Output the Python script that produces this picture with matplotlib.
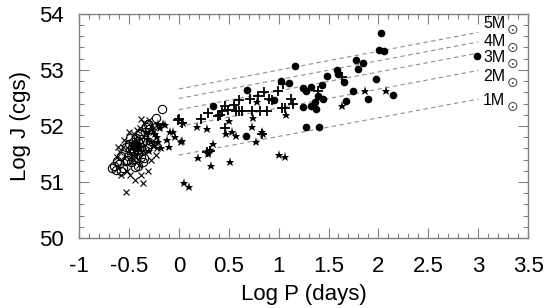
#!/usr/bin/env python3
"""
Angular momentum vs orbital period scatter, with constant-mass Kepler lines.
"""

import matplotlib
matplotlib.use("Agg")
import matplotlib.pyplot as plt
from matplotlib.ticker import MultipleLocator

OUT = "out.png"

# ---------------------------------------------------------------------------
# Data
# ---------------------------------------------------------------------------

# open circles
circ_logp = [-0.17, -0.23, -0.31, -0.49, -0.65, -0.63, -0.58, -0.54, -0.51, -0.48,
             -0.44, -0.41, -0.46, -0.43, -0.39, -0.34, -0.28, -0.38, -0.36, -0.53,
             -0.58, -0.46, -0.44, -0.42, -0.40, -0.47, -0.43, -0.38, -0.50, -0.41,
             -0.36, -0.45, -0.48, -0.39, -0.33, -0.30, -0.52, -0.60, -0.56, -0.62,
             -0.35, -0.32, -0.29, -0.67, -0.44, -0.45, -0.41, -0.37, -0.49, -0.43]
circ_logj = [52.30, 52.15, 52.03, 51.78, 51.28, 51.22, 51.19, 51.37, 51.46, 51.35,
             51.26, 51.28, 51.53, 51.63, 51.76, 51.89, 51.81, 51.44, 51.35, 51.63,
             51.46, 51.72, 51.66, 51.58, 51.70, 51.60, 51.78, 51.62, 51.68, 51.50,
             51.72, 51.55, 51.52, 51.85, 51.98, 51.95, 51.40, 51.32, 51.25, 51.38,
             51.42, 51.60, 51.68, 51.25, 51.45, 51.65, 51.74, 51.55, 51.58, 51.68]

# crosses
cross_logp = [-0.38, -0.39, -0.56, -0.59, -0.23, -0.38, -0.44, -0.36, -0.53, -0.49,
              -0.31, -0.24, -0.21, -0.45, -0.50, -0.42, -0.35, -0.30, -0.33, -0.55,
              -0.62, -0.47, -0.40, -0.28, -0.52, -0.58, -0.36, -0.44, -0.48, -0.40,
              -0.26, -0.22, -0.61, -0.27, -0.42, -0.46]
cross_logj = [52.12, 51.97, 51.62, 51.53, 51.49, 51.13, 51.04, 50.99, 50.83, 51.13,
              51.19, 51.71, 51.99, 51.85, 51.90, 51.92, 52.05, 52.10, 51.85, 51.75,
              51.45, 51.35, 51.30, 51.40, 51.20, 51.12, 51.55, 51.45, 51.70, 51.60,
              51.90, 51.60, 51.63, 52.02, 51.66, 51.62]

# stars
star_logp = [-0.21, -0.19, -0.16, -0.14, -0.09, -0.06, -0.10, -0.22, -0.21, -0.31,
             -0.28, -0.04, 0.02, 0.04, 0.05, 0.10, 0.03, 0.18, 0.28, 0.19,
             0.32, 0.34, 0.50, 0.47, 0.53, 0.57, 0.73, 0.83, 0.84, 0.77,
             0.51, 1.00, 1.06, 0.78, 0.74, 1.07, 1.64, 1.87, 2.08, -0.33,
             -0.27, -0.25, -0.18, -0.12, -0.30, -0.24, 0.31, 0.29]
star_logj = [52.03, 51.97, 52.03, 52.01, 51.90, 51.89, 51.62, 51.81, 51.71, 51.76,
             51.72, 51.80, 51.72, 52.06, 50.99, 50.92, 51.74, 51.99, 51.94, 51.42,
             51.28, 51.67, 52.08, 51.85, 51.89, 51.83, 51.99, 51.89, 51.85, 51.71,
             51.35, 51.49, 51.44, 52.42, 52.15, 52.19, 52.35, 52.62, 52.62, 51.90,
             51.95, 51.65, 51.60, 51.75, 51.55, 51.85, 51.58, 51.50]

# plus signs
plus_logp = [1.04, 0.85, 0.79, 0.71, 0.60, 0.90, 0.93, 0.46, 0.55, 0.43,
             0.49, 0.57, 0.60, 0.63, 0.73, 0.81, 0.88, 1.03, 0.41, 0.29,
             0.22, 0.00, 0.39, 0.46, 0.28, 0.31, 0.83, 0.99, 1.12, 1.14,
             1.06, 1.39, 1.64, -0.01, 0.03]
plus_logj = [52.75, 52.60, 52.53, 52.49, 52.46, 52.48, 52.46, 52.35, 52.37, 52.26,
             52.28, 52.26, 52.26, 52.26, 52.26, 52.26, 52.26, 52.32, 52.19, 52.24,
             52.12, 52.12, 52.17, 51.96, 51.53, 51.55, 51.85, 52.62, 52.49, 52.40,
             52.32, 52.62, 52.87, 52.10, 52.06]

# filled circles
dot_logp = [0.34, 0.68, 0.67, 0.95, 1.02, 1.10, 1.16, 1.24, 1.27, 1.32,
            1.39, 1.44, 1.36, 1.43, 1.24, 1.32, 1.37, 1.27, 1.40, 1.48,
            1.59, 1.60, 1.66, 1.68, 1.75, 1.78, 1.85, 1.80, 1.90, 1.98,
            2.01, 2.06, 2.03, 2.15, 2.99]
dot_logj = [52.35, 52.64, 51.83, 52.46, 52.80, 52.76, 53.07, 52.67, 52.62, 52.69,
            52.53, 52.48, 52.42, 52.73, 52.33, 52.35, 52.30, 51.99, 51.99, 52.89,
            53.00, 52.92, 52.78, 52.44, 52.62, 53.18, 53.12, 53.01, 52.48, 52.84,
            53.35, 53.34, 53.66, 52.55, 53.25]

# constant-mass lines (log P from 0 to 3)
masses     = [1, 2, 3, 4, 5]
line_logp  = [0.0, 3.0]
line_start = [51.48, 51.99, 52.29, 52.49, 52.66]
line_end   = [52.48, 52.99, 53.30, 53.50, 53.67]
label_logj = [52.37, 52.80, 53.14, 53.43, 53.75]


def main():
    plt.rcParams["font.family"] = ["Liberation Sans", "DejaVu Sans"]

    fig = plt.figure(figsize=(5.45, 3.08), dpi=100)
    ax = fig.add_axes([0.145, 0.227, 0.824, 0.728])

    for y0, y1 in zip(line_start, line_end):
        ax.plot(line_logp, [y0, y1], ls=(0, (4, 3)), lw=0.8, color="#909090", zorder=1)

    ax.plot(circ_logp, circ_logj, ls="none", marker="o", ms=6, mfc="none",
            mec="black", mew=0.8, zorder=2)
    ax.plot(cross_logp, cross_logj, ls="none", marker="x", ms=5, color="black",
            mew=0.8, zorder=3)
    ax.plot(star_logp, star_logj, ls="none", marker="*", ms=6.5, color="black",
            mew=0, zorder=4)
    ax.plot(plus_logp, plus_logj, ls="none", marker="+", ms=7, color="black",
            mew=1.3, zorder=5)
    ax.plot(dot_logp, dot_logj, ls="none", marker="o", ms=5.5, color="black",
            mew=0, zorder=6)

    # mass labels with a solar symbol set low and to the right
    for m, y in zip(masses, label_logj):
        ax.text(3.05, y, f"{m}M", fontsize=11.5, ha="left", va="baseline",
                color="black")
        ax.annotate("\u2299", xy=(3.05, y), xytext=(21.5, -1.5),
                    textcoords="offset points", ha="center", va="center",
                    fontsize=10, family="DejaVu Sans", color="#404040")

    ax.set_xlim(-1, 3.5)
    ax.set_ylim(50, 54)
    ax.xaxis.set_minor_locator(MultipleLocator(0.1))
    ax.yaxis.set_major_locator(MultipleLocator(1))
    ax.yaxis.set_minor_locator(MultipleLocator(0.2))
    ax.set_xticks([-1, -0.5, 0, 0.5, 1, 1.5, 2, 2.5, 3, 3.5])
    ax.set_xticklabels(["-1", "-0.5", "0", "0.5", "1", "1.5", "2", "2.5", "3", "3.5"])

    for sp in ax.spines.values():
        sp.set_color("#808080")
        sp.set_linewidth(1.0)
    ax.tick_params(which="both", direction="in", top=True, right=True,
                   color="#808080", labelsize=16, pad=11)
    ax.tick_params(axis="x", pad=13)
    ax.tick_params(which="major", length=7, width=0.8)
    ax.tick_params(which="minor", length=3.5, width=0.8)

    ax.set_xlabel("Log P (days)", fontsize=16, labelpad=5)
    ax.set_ylabel("Log J (cgs)", fontsize=16, labelpad=6)

    fig.savefig(OUT, dpi=100)
    plt.close(fig)


if __name__ == "__main__":
    main()
